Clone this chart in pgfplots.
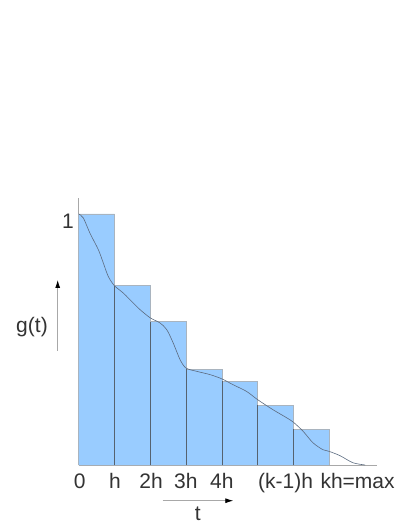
\documentclass[border=0pt]{standalone}
\usepackage{pgfplots}
\pgfplotsset{compat=1.18}
\usepackage{fontspec}
\setmainfont{Liberation Sans}
\usetikzlibrary{arrows.meta}
\definecolor{barblue}{HTML}{99CCFF}
\definecolor{barline}{HTML}{A9B4BF}
\definecolor{divline}{HTML}{56626F}
\definecolor{curvecol}{HTML}{5C6B80}
\definecolor{axgray}{HTML}{A8A8A8}
\definecolor{txt}{HTML}{333333}

\begin{document}
\fontsize{21}{25}\selectfont
\begin{tikzpicture}[x=1pt,y=1pt]
\useasboundingbox (0,0) rectangle (407,527);
\begin{axis}[%
	at={(78.7pt,62pt)}, anchor=south west,
	scale only axis, width=298.6pt, height=266.7pt,
	xmin=0, xmax=8.34, ymin=0, ymax=1.0625,
	axis x line*=bottom, axis y line*=left,
	axis line style={-, draw=axgray, line width=0.8pt},
	major tick length=0pt,
	xtick={0.03,1.01,2.02,2.99,4,5.78,7.79},
	xticklabels={0,h,2h,3h,4h,(k-1)h,kh=max},
	ytick={1}, yticklabels={1},
	tick label style={font=\fontsize{21}{25}\selectfont, text=txt, inner sep=0pt},
	xticklabel style={anchor=base, yshift=-23pt},
	yticklabel style={anchor=base east, xshift=-4.7pt, yshift=-15pt},
	clip=false,
	]
	% rectangles, left end values
	\addplot[const plot, fill=barblue, draw=barline, line width=0.6pt]
		coordinates {(0,0) (0,1) (1,0.714) (2,0.571) (3,0.381) (4,0.333) (5,0.238) (6,0.142) (7,0.142) (7,0)};
	\addplot[ycomb, draw=divline, line width=0.6pt]
		coordinates {(1,0.714) (2,0.571) (3,0.381) (4,0.333) (5,0.238) (6,0.142)};
	% g(t)
	\addplot[smooth, draw=curvecol, line width=0.6pt]
		coordinates {(0,1.0) (0.13,0.984) (0.316,0.923) (0.548,0.858) (0.687,0.805) (0.827,0.751)
		(1,0.714) (1.246,0.685) (1.525,0.645) (1.712,0.619) (2,0.586) (2.27,0.566) (2.46,0.539)
		(2.64,0.486) (2.83,0.42) (3,0.386) (3.3,0.373) (3.67,0.36) (4,0.343) (4.31,0.32)
		(4.69,0.293) (5,0.26) (5.43,0.22) (5.81,0.188) (6,0.17) (6.27,0.134) (6.54,0.089)
		(6.82,0.061) (7,0.054) (7.3,0.037) (7.66,0.009) (8,0)};
\end{axis}
\draw[axgray, line width=0.8pt, -{Latex[length=8pt,width=5pt,color=black]}] (57.7,176) -- (57.7,247);
\draw[axgray, line width=0.8pt, -{Latex[length=8pt,width=5pt,color=black]}] (162.7,26.3) -- (233.3,26.3);
\node[text=txt] at (32,200) {g(t)};
\node[text=txt, anchor=base, inner sep=0pt] at (197.7,6) {t};
\end{tikzpicture}
\end{document}
